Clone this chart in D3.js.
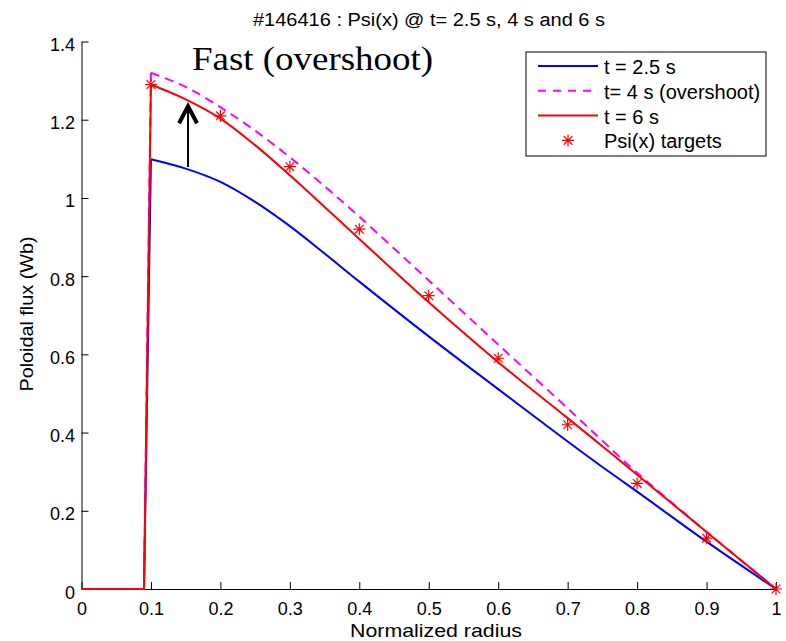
<!DOCTYPE html>
<html>
<head>
<script src="https://d3js.org/d3.v7.min.js"></script>
<style>
body { margin: 0; background: #fff; }
</style>
</head>
<body>
<svg width="786" height="641"></svg>
<script>
// profiles
var radius = [0, 0.09, 0.1, 0.15, 0.2, 0.25, 0.3, 0.35, 0.4, 0.5, 0.6, 0.7, 0.75, 0.8, 0.9, 1];
var psi25 = [0, 0, 1.099, 1.075, 1.041, 0.990, 0.928, 0.858, 0.786, 0.646, 0.511, 0.377, 0.312, 0.249, 0.121, 0];
var psi4  = [0, 0, 1.32, 1.284, 1.232, 1.172, 1.104, 1.030, 0.952, 0.789, 0.625, 0.462, 0.379, 0.297, 0.146, 0];
var psi6  = [0, 0, 1.29, 1.252, 1.203, 1.135, 1.058, 0.977, 0.895, 0.733, 0.58, 0.437, 0.365, 0.292, 0.146, 0];
var targetX = [0.1, 0.2, 0.3, 0.4, 0.5, 0.6, 0.7, 0.8, 0.9, 1];
var targetY = [1.29, 1.21, 1.08, 0.92, 0.75, 0.59, 0.42, 0.27, 0.13, 0];
var xTicks = [0, 0.1, 0.2, 0.3, 0.4, 0.5, 0.6, 0.7, 0.8, 0.9, 1];
var yTicks = [0, 0.2, 0.4, 0.6, 0.8, 1, 1.2, 1.4];
var legendLabels = ["t = 2.5 s", "t= 4 s (overshoot)", "t = 6 s", "Psi(x) targets"];

var SANS = "'Liberation Sans', Arial, Helvetica, sans-serif";
var SERIF = "'Liberation Serif', 'Times New Roman', serif";

var svg = d3.select("svg");
var x = d3.scaleLinear().domain([0, 1]).range([81.5, 776]);
var y = d3.scaleLinear().domain([0, 1.4]).range([589, 41.5]);

var straight = d3.line().x(function (d) { return x(d[0]); }).y(function (d) { return y(d[1]); });
var smooth = d3.line().x(function (d) { return x(d[0]); }).y(function (d) { return y(d[1]); })
  .curve(d3.curveCatmullRom.alpha(0.5));

// the jump at 0.09 -> 0.1 stays straight, the rest is smoothed
function draw(vals, color, dash) {
  var pts = radius.map(function (r, i) { return [r, vals[i]]; });
  var g = svg.append("g").attr("fill", "none").attr("stroke", color).attr("stroke-width", 2);
  if (dash) g.attr("stroke-dasharray", dash);
  g.append("path").attr("d", straight(pts.slice(0, 3)));
  g.append("path").attr("d", smooth(pts.slice(2)));
}

var fmt = function (d) { return d === 0 || d === 1 ? d : d3.format(".1f")(d); };

// axes: ticks inside, no box
var gx = svg.append("g").attr("transform", "translate(0," + y(0) + ")")
  .call(d3.axisBottom(x).tickValues(xTicks).tickSizeInner(-7).tickSizeOuter(0).tickFormat(fmt));
var gy = svg.append("g").attr("transform", "translate(" + x(0) + ",0)")
  .call(d3.axisLeft(y).tickValues(yTicks).tickSizeInner(-7).tickSizeOuter(0).tickFormat(fmt));
[gx, gy].forEach(function (g) {
  g.select(".domain").attr("stroke", "#000");
  g.selectAll(".tick line").attr("stroke", "#000");
  g.selectAll(".tick text").style("font-size", "18px").style("font-family", SANS).attr("fill", "#000");
});
gx.selectAll(".tick text").attr("y", 26).attr("dy", 0);
gy.selectAll(".tick text").attr("x", -6.5).attr("dy", "0.5em");

draw(psi25, "#0000ff");
draw(psi4, "#ff00ff", "9,6");
draw(psi6, "#ff0000");

// asterisk markers
function star(r) {
  var a = r * 0.72;
  return "M" + (-r) + ",0L" + r + ",0M0," + (-r) + "L0," + r +
    "M" + (-a) + "," + (-a) + "L" + a + "," + a + "M" + (-a) + "," + a + "L" + a + "," + (-a);
}
svg.append("g").selectAll("path").data(targetX).join("path")
  .attr("transform", function (d, i) { return "translate(" + x(d) + "," + y(targetY[i]) + ")"; })
  .attr("d", star(6)).attr("stroke", "#ff0000").attr("stroke-width", 1.2).attr("fill", "none");

// arrow annotation
var ax = x(0.1534), tip = y(1.237);
svg.append("line").attr("x1", ax).attr("x2", ax).attr("y1", y(1.079)).attr("y2", tip + 4)
  .attr("stroke", "#000").attr("stroke-width", 2);
svg.append("path")
  .attr("d", "M" + (ax - 9) + "," + (tip + 18) + "L" + ax + "," + (tip + 1) + "L" + (ax + 9) + "," + (tip + 18))
  .attr("stroke", "#000").attr("stroke-width", 4).attr("fill", "none");
svg.append("text").attr("x", 192).attr("y", 70).text("Fast (overshoot)")
  .style("font-family", SERIF).style("font-size", "33px")
  .attr("textLength", 241).attr("lengthAdjust", "spacingAndGlyphs");

// title and axis labels
svg.append("text").attr("x", 429).attr("y", 26).attr("text-anchor", "middle")
  .style("font-family", SANS).style("font-size", "18px")
  .attr("textLength", 352).attr("lengthAdjust", "spacingAndGlyphs")
  .text("#146416 : Psi(x) @ t= 2.5 s, 4 s and 6 s");
svg.append("text").attr("x", 436).attr("y", 637).attr("text-anchor", "middle")
  .style("font-family", SANS).style("font-size", "19px")
  .attr("textLength", 172).attr("lengthAdjust", "spacingAndGlyphs")
  .text("Normalized radius");
svg.append("text").attr("transform", "translate(33,314) rotate(-90)").attr("text-anchor", "middle")
  .style("font-family", SANS).style("font-size", "19px")
  .attr("textLength", 155).attr("lengthAdjust", "spacingAndGlyphs")
  .text("Poloidal flux (Wb)");

// legend
var lg = svg.append("g");
lg.append("rect").attr("x", 526).attr("y", 52).attr("width", 240).attr("height", 104)
  .attr("fill", "#fff").attr("stroke", "#000").attr("stroke-width", 1);
var legColors = ["#0000ff", "#ff00ff", "#ff0000", "#ff0000"];
legendLabels.forEach(function (lab, i) {
  var yy = 66 + i * 24.8;
  if (i < 3) {
    var l = lg.append("line").attr("x1", 538).attr("x2", 598).attr("y1", yy).attr("y2", yy)
      .attr("stroke", legColors[i]).attr("stroke-width", 2);
    if (i === 1) l.attr("stroke-dasharray", "8,7");
  } else {
    lg.append("path").attr("transform", "translate(568," + yy + ")").attr("d", star(6))
      .attr("stroke", "#ff0000").attr("stroke-width", 1.2).attr("fill", "none");
  }
  lg.append("text").attr("x", 604).attr("y", yy + 8).style("font-family", SANS)
    .style("font-size", "20px").text(lab);
});
</script>
</body>
</html>
